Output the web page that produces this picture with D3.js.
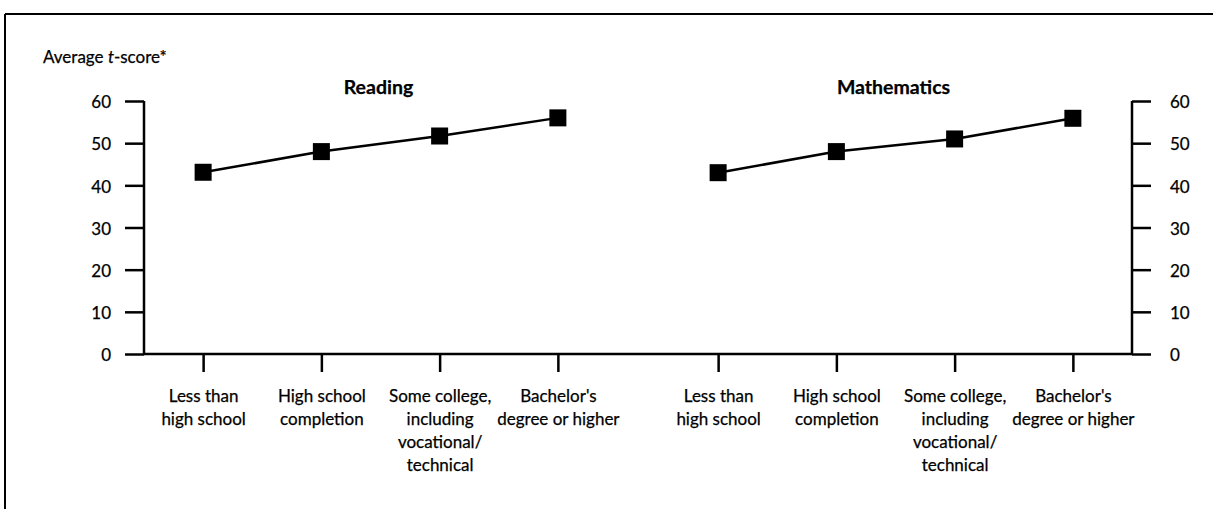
<!DOCTYPE html>
<html><head><meta charset="utf-8">
<script src="https://cdn.jsdelivr.net/npm/d3@7"></script>
<style>
html,body{margin:0;padding:0;background:#fff;}
svg text{font-family:Lato,"Open Sans",Arial,sans-serif;fill:#000;stroke:#000;stroke-width:0.25px;}
</style></head>
<body><svg id="c" width="1213" height="509"></svg>
<script>
const categories = [
  ["Less than", "high school"],
  ["High school", "completion"],
  ["Some college,", "including", "vocational/", "technical"],
  ["Bachelor's", "degree or higher"]
];
const panels = ["Reading", "Mathematics"];
const readingValues = [43.1, 48.0, 51.7, 56.0];
const mathValues = [43.0, 48.0, 51.0, 55.9];
const yTicks = [0, 10, 20, 30, 40, 50, 60];
const yLabel = "Average ";
const yLabelItalic = "t";
const yLabelEnd = "-score*";

const svg = d3.select("#c");
const W = 1213, H = 509;
const fontSize = 17;

svg.append("line").attr("x1",5).attr("x2",5).attr("y1",14).attr("y2",H).attr("stroke","#000").attr("stroke-width",2);
svg.append("line").attr("x1",5).attr("x2",W).attr("y1",14).attr("y2",14).attr("stroke","#000").attr("stroke-width",2);

const y = d3.scaleLinear().domain([0,60]).range([354,101]);
const leftX = 144, rightX = 1132;
const gap = 42;
const mid = (leftX + rightX) / 2;
const xRead = d3.scalePoint().domain(d3.range(4)).range([leftX, mid - gap/2]).padding(0.5);
const xMath = d3.scalePoint().domain(d3.range(4)).range([mid + gap/2, rightX]).padding(0.5);

const yAxisL = d3.axisLeft(y).tickValues(yTicks).tickSize(19).tickPadding(14).tickFormat(d3.format("d"));
const yAxisR = d3.axisRight(y).tickValues(yTicks).tickSize(19).tickPadding(19).tickFormat(d3.format("d"));
function styleAxis(g){
  g.select(".domain").remove();
  g.selectAll(".tick line").attr("stroke","#000").attr("stroke-width",2.5);
  g.selectAll(".tick text").style("font-size", fontSize+"px").attr("dy","0.4em");
}
svg.append("g").attr("transform",`translate(${leftX},0)`).call(yAxisL).call(styleAxis);
svg.append("g").attr("transform",`translate(${rightX},0)`).call(yAxisR).call(styleAxis);
svg.append("line").attr("x1",leftX).attr("x2",leftX).attr("y1",y(60)).attr("y2",y(0)).attr("stroke","#000").attr("stroke-width",2.5);
svg.append("line").attr("x1",rightX).attr("x2",rightX).attr("y1",y(60)).attr("y2",y(0)).attr("stroke","#000").attr("stroke-width",2.5);
svg.append("line").attr("x1",leftX).attr("x2",rightX).attr("y1",y(0)).attr("y2",y(0)).attr("stroke","#000").attr("stroke-width",2.5);

function xAxis(scale){
  const g = svg.append("g").attr("transform",`translate(0,${y(0)})`)
    .call(d3.axisBottom(scale).tickSize(18).tickFormat(() => ""));
  g.select(".domain").remove();
  g.selectAll(".tick line").attr("stroke","#000").attr("stroke-width",2.5);
  g.selectAll(".tick").each(function(d){
    const t = d3.select(this).select("text").attr("y", 0).attr("dy", null).text(null)
      .attr("text-anchor","middle").style("font-size", fontSize+"px");
    categories[d].forEach((line, i) => {
      t.append("tspan").attr("x", 0).attr("y", 48 + i*23).text(line);
    });
  });
}
xAxis(xRead); xAxis(xMath);

const yl = svg.append("text").attr("x",43).attr("y",63).style("font-size", fontSize+"px");
yl.append("tspan").text(yLabel);
yl.append("tspan").style("font-style","italic").text(yLabelItalic);
yl.append("tspan").text(yLabelEnd);

[[xRead, panels[0], readingValues],[xMath, panels[1], mathValues]].forEach(([sx, title, vals]) => {
  const [r0, r1] = sx.range();
  svg.append("text").attr("x",(r0+r1)/2 - 2).attr("y",94).attr("text-anchor","middle")
    .style("font-size","19.5px").style("font-weight","bold").text(title);
  const line = d3.line().x((d,i) => sx(i)).y(d => y(d));
  svg.append("path").datum(vals).attr("d", line).attr("fill","none").attr("stroke","#000").attr("stroke-width",2.5);
  const s = 17;
  svg.selectAll(null).data(vals).enter().append("rect")
    .attr("x",(d,i) => sx(i) - s/2).attr("y", d => y(d) - s/2)
    .attr("width", s).attr("height", s).attr("fill","#000");
});
</script></body></html>
